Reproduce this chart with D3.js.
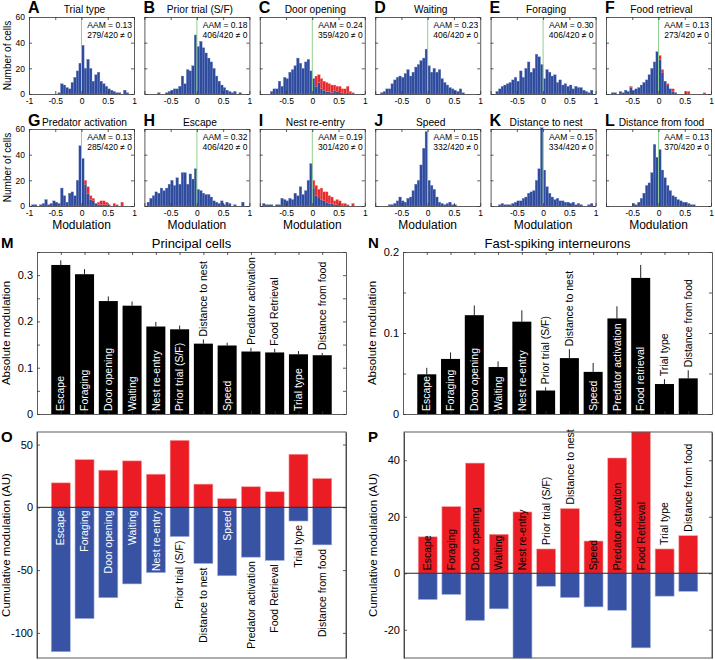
<!DOCTYPE html>
<html>
<head>
<meta charset="utf-8">
<script src="https://cdn.jsdelivr.net/npm/d3@7"></script>
<style>
body { margin: 0; background: #fff; }
svg { font-family: "Liberation Sans", Arial, sans-serif; }
</style>
</head>
<body>
<svg id="fig" width="715" height="660"></svg>
<script>
// ---------- histogram panels A-L (counts per 0.05 bin, from -1 to 1) ----------
const histLetters = ["A", "B", "C", "D", "E", "F", "G", "H", "I", "J", "K", "L"];
const histTitles = ["Trial type", "Prior trial (S/F)", "Door opening", "Waiting", "Foraging", "Food retrieval",
                    "Predator activation", "Escape", "Nest re-entry", "Speed", "Distance to nest", "Distance from food"];
const histAAM = [0.13, 0.18, 0.24, 0.23, 0.30, 0.13, 0.13, 0.32, 0.19, 0.15, 0.15, 0.13];
const histNonzero = [279, 406, 359, 406, 406, 273, 285, 406, 301, 332, 334, 370];
const histTotal = 420;
const binStart = -1, binWidth = 0.05;

const countsA = [0,0,0,0,0,0,0,0,0,0,0,1,8,7,5,4,9,13,18,24,38,20,27,20,10,15,17,10,8,6,4,3,2,1,1,0,3,1,0,0];
const countsB = [0,0,0,0,0,1,0,0,1,2,3,4,4,6,14,8,19,18,22,46,37,41,36,32,28,25,20,14,10,7,5,3,2,1,2,0,1,0,0,0];
const countsC = [0,0,0,0,2,4,4,10,6,13,12,17,19,22,28,24,20,25,27,18,12,6,9,4,3,2,2,1,3,2,1,1,0,1,0,0,0,0,0,0];
const countsD = [0,0,1,2,4,4,8,11,13,14,13,16,19,14,17,21,23,26,28,35,22,17,20,17,19,12,9,7,5,4,3,2,4,1,0,0,0,0,0,0];
const countsE = [0,0,2,4,6,7,8,9,11,13,10,18,13,20,25,17,20,31,29,23,12,19,17,14,15,9,11,7,8,6,7,4,6,5,5,3,2,1,3,0];
const countsF = [0,0,1,1,0,2,1,3,2,5,3,4,5,7,9,11,15,20,25,33,27,17,10,7,4,2,1,0,0,0,0,0,0,0,0,0,0,0,0,0];
const countsG = [0,1,1,0,1,2,5,1,2,4,3,2,14,8,3,10,11,8,20,47,37,17,10,5,4,2,1,1,1,1,0,0,0,0,0,0,0,0,0,0];
const countsH = [0,3,6,8,11,10,14,12,14,17,20,16,22,17,26,26,17,25,21,29,13,12,10,9,9,7,4,3,2,4,1,3,2,0,1,0,0,3,0,0];
const countsI = [0,2,1,1,1,0,1,1,6,5,4,6,5,10,8,15,9,12,20,33,14,8,7,5,4,3,2,2,1,1,0,0,0,0,0,0,0,0,0,0];
const countsJ = [0,0,0,0,0,1,1,2,4,7,4,3,6,7,12,17,20,32,45,58,20,16,13,7,3,2,1,2,3,1,1,0,0,0,0,0,0,0,0,0];
const countsK = [0,0,0,1,2,1,1,1,2,3,4,4,6,7,10,11,12,20,29,61,28,15,10,7,5,6,4,4,3,3,2,3,1,2,1,0,0,1,2,0];
const countsL = [0,0,0,0,0,0,0,0,0,0,2,1,3,6,10,16,18,26,48,38,44,28,22,16,12,8,7,5,4,3,3,2,1,1,0,0,0,0,0,0];
// significant cells (red), stacked on top of the blue counts
const redC = [0,0,0,0,0,0,0,0,0,0,0,0,0,0,0,0,0,0,0,0,0,8,6,8,7,7,6,6,4,4,5,3,4,5,2,1,0,0,0,0];
const redF = [0,0,0,0,0,0,0,0,0,1,0,0,0,0,0,0,0,0,0,0,3,2,0,1,0,2,0,0,0,0,2,2,0,0,0,0,0,1,0,0];
const redG = [0,0,0,0,0,0,0,0,0,0,0,0,0,0,0,0,0,0,0,0,0,3,5,3,2,0,2,3,3,2,1,0,2,1,0,3,0,0,0,0];
const redI = [0,0,0,0,0,0,0,0,0,0,0,0,0,0,0,0,0,0,0,0,6,8,6,9,7,8,6,5,3,4,4,2,2,1,0,2,0,0,0,0];

const histBlue = [countsA, countsB, countsC, countsD, countsE, countsF, countsG, countsH, countsI, countsJ, countsK, countsL];
const histRed = [null, null, redC, null, null, redF, redG, null, redI, null, null, null];

// ---------- M / N : absolute modulation ----------
const mLabels = ["Escape", "Foraging", "Door opening", "Waiting", "Nest re-entry", "Prior trial (S/F)",
                 "Distance to nest", "Speed", "Predator activation", "Food Retrieval", "Trial type", "Distance from food"];
const mMean = [0.322, 0.302, 0.244, 0.234, 0.189, 0.183, 0.152, 0.148, 0.135, 0.133, 0.129, 0.127];
const mErr  = [0.010, 0.011, 0.010, 0.009, 0.010, 0.008, 0.009, 0.006, 0.008, 0.008, 0.007, 0.005];

const nLabels = ["Escape", "Foraging", "Door opening", "Waiting", "Nest re-entry", "Prior trial (S/F)",
                 "Distance to nest", "Speed", "Predator activation", "Food retrieval", "Trial type", "Distance from food"];
const nMean = [0.049, 0.068, 0.122, 0.058, 0.114, 0.029, 0.069, 0.052, 0.118, 0.168, 0.037, 0.044];
const nErr  = [0.008, 0.008, 0.012, 0.007, 0.014, 0.004, 0.011, 0.011, 0.015, 0.016, 0.006, 0.010];

// ---------- O / P : cumulative modulation ----------
const oLabels = mLabels;
const oPos = [19.5, 38, 29.6, 37, 26.4, 53.4, 18.5, 6.9, 16.4, 12.4, 42.3, 23];
const oNeg = [-115, -88.6, -72, -61, -52, -23.3, -44.7, -54.5, -39.7, -42.3, -10.9, -29.9];

const pLabels = mLabels;
const pPos = [12.9, 23.6, 39, 13.8, 21.7, 8.6, 22.9, 11.4, 40.8, 50, 8.6, 13.3];
const pNeg = [-9.3, -7.5, -16.7, -12.6, -30, -4.6, -8.6, -11.9, -13.1, -26.4, -8.1, -6.4];

const svg = d3.select("#fig");
const FONT = "Liberation Sans, Arial, sans-serif";
const BLUE = "#2e4b9d", RED = "#e8282b";

// box with inward ticks on all four sides
function boxAxes(g, x, y, w, h, xt, yt, xfmt, yfmt, fs) {
    const ax = [
        [d3.axisBottom(x).tickValues(xt).tickFormat(xfmt || ""), `translate(0,${h})`],
        [d3.axisTop(x).tickValues(xt).tickFormat(""), "translate(0,0)"],
        [d3.axisLeft(y).tickValues(yt).tickFormat(yfmt || ""), "translate(0,0)"],
        [d3.axisRight(y).tickValues(yt).tickFormat(""), `translate(${w},0)`]
    ];
    ax.forEach(function(a) {
        const s = g.append("g").attr("transform", a[1])
            .call(a[0].tickSize(-3).tickSizeOuter(0).tickPadding(4));
        s.attr("font-family", FONT).attr("font-size", fs);
        s.selectAll("path, line").attr("stroke", "#333").attr("stroke-width", 0.8);
        s.selectAll("text").attr("fill", "#000");
    });
}

// ---------- draw histograms ----------
histBlue.forEach(function(counts, i) {
    const row = Math.floor(i / 6), col = i % 6;
    const left = 29 + col * 115.4, top = row ? 129 : 17, w = 105, h = 77;
    const g = svg.append("g").attr("transform", "translate(" + left + "," + top + ")");
    const x = d3.scaleLinear().domain([-1, 1]).range([0, w]);
    const y = d3.scaleLinear().domain([0, 60]).range([h, 0]);
    const bins = counts.map(function(c, k) {
        return {x0: binStart + k * binWidth, blue: c, red: histRed[i] ? histRed[i][k] : 0};
    });
    const bw = x(binWidth) - x(0);

    g.selectAll(".hb").data(bins.filter(d => d.blue > 0)).join("rect")
        .attr("x", d => x(d.x0)).attr("width", bw)
        .attr("y", d => y(d.blue)).attr("height", d => y(0) - y(d.blue))
        .attr("fill", BLUE).attr("stroke", "#7186c2").attr("stroke-width", 0.3);
    g.selectAll(".hr").data(bins.filter(d => d.red > 0)).join("rect")
        .attr("x", d => x(d.x0)).attr("width", bw)
        .attr("y", d => y(d.blue + d.red)).attr("height", d => y(d.blue) - y(d.blue + d.red))
        .attr("fill", RED).attr("stroke", "#f08a8a").attr("stroke-width", 0.3);

    // zero line
    g.append("line").attr("x1", x(0)).attr("x2", x(0)).attr("y1", 0).attr("y2", h)
        .attr("stroke", "#8fd18f").attr("stroke-width", 1);

    boxAxes(g, x, y, w, h, [-1, -0.5, 0, 0.5, 1], [0, 20, 40, 60],
        d => (col > 0 && d === -1) ? "" : String(d),
        col === 0 ? (d => String(d)) : null, 8.5);

    g.append("text").attr("x", w - 2).attr("y", 11).attr("text-anchor", "end")
        .attr("font-size", 8.5).text("AAM = " + histAAM[i].toFixed(2));
    g.append("text").attr("x", w - 2).attr("y", 21).attr("text-anchor", "end")
        .attr("font-size", 8.5).text(histNonzero[i] + "/" + histTotal + " \u2260 0");

    // panel letter + title
    g.append("text").attr("x", -1).attr("y", row ? -3 : -4).attr("font-size", 16)
        .attr("font-weight", "bold").text(histLetters[i]);
    g.append("text").attr("x", w / 2 + 3).attr("y", row ? -3 : -4).attr("text-anchor", "middle")
        .attr("font-size", 10.2).text(histTitles[i]);

    if (col === 0) {
        g.append("text").attr("transform", "translate(-22," + (h / 2) + ") rotate(-90)")
            .attr("text-anchor", "middle").attr("dy", "0.35em")
            .attr("font-size", 10).text("Number of cells");
    }
    if (row === 1) {
        g.append("text").attr("x", w / 2).attr("y", h + 23).attr("text-anchor", "middle")
            .attr("font-size", 12).text("Modulation");
    }
});

// ---------- absolute modulation panels ----------
function drawAbs(o) {
    const w = o.right - o.left, h = o.bottom - o.top;
    const g = svg.append("g").attr("transform", "translate(" + o.left + "," + o.top + ")");
    const x = d3.scaleLinear().domain([0, o.labels.length + 1]).range([0, w]);
    const y = d3.scaleLinear().domain([0, o.yMax]).range([h, 0]);
    const bw = x(0.8) - x(0);
    const rows = o.labels.map((l, i) => ({label: l, mean: o.mean[i], err: o.err[i], pos: i + 1}));

    g.selectAll(".err").data(rows).join("line")
        .attr("x1", d => x(d.pos)).attr("x2", d => x(d.pos))
        .attr("y1", d => y(d.mean)).attr("y2", d => y(d.mean + d.err))
        .attr("stroke", "#222").attr("stroke-width", 1);
    g.selectAll(".bar").data(rows).join("rect")
        .attr("x", d => x(d.pos) - bw / 2).attr("width", bw)
        .attr("y", d => y(d.mean)).attr("height", d => y(0) - y(d.mean))
        .attr("fill", "#000");

    rows.forEach(function(d) {
        const t = g.append("text").attr("font-size", 10.5).attr("dy", "0.35em").text(d.label);
        const len = t.node().getComputedTextLength();
        const inside = len < y(0) - y(d.mean) + 2;
        const ty = inside ? y(0) - 3 : y(d.mean + d.err) - 3;
        t.attr("transform", "translate(" + x(d.pos) + "," + ty + ") rotate(-90)")
            .attr("fill", inside ? "#fff" : "#000");
    });

    boxAxes(g, x, y, w, h, d3.range(1, o.labels.length + 1), o.yTicks, null,
        d => o.yLabels.indexOf(d) >= 0 ? (d === 0 ? "0" : d.toFixed(1)) : "", 11);

    g.append("text").attr("x", w / 2).attr("y", -4).attr("text-anchor", "middle")
        .attr("font-size", 13).text(o.title);
    g.append("text").attr("x", o.letterX).attr("y", -4).attr("font-size", 15)
        .attr("font-weight", "bold").text(o.letter);
    g.append("text").attr("transform", "translate(" + o.ylabX + "," + (h / 2) + ") rotate(-90)")
        .attr("text-anchor", "middle").attr("font-size", 11.5).text("Absolute modulation");
}

drawAbs({left: 37, right: 346, top: 252, bottom: 414, yMax: 0.35, labels: mLabels, mean: mMean, err: mErr,
         yTicks: [0, 0.05, 0.1, 0.15, 0.2, 0.25, 0.3, 0.35], yLabels: [0, 0.1, 0.2, 0.3],
         title: "Principal cells", letter: "M", letterX: -36, ylabX: -27});
drawAbs({left: 403, right: 712, top: 252, bottom: 414, yMax: 0.2, labels: nLabels, mean: nMean, err: nErr,
         yTicks: [0, 0.05, 0.1, 0.15, 0.2], yLabels: [0, 0.1, 0.2],
         title: "Fast-spiking interneurons", letter: "N", letterX: -35, ylabX: -27});

// ---------- cumulative modulation panels ----------
function drawCum(o) {
    const w = o.right - o.left, h = o.bottom - o.top;
    const g = svg.append("g").attr("transform", "translate(" + o.left + "," + o.top + ")");
    const x = d3.scaleLinear().domain([0, o.labels.length + 1]).range([0, w]);
    const y = d3.scaleLinear().domain(o.yDomain).range([h, 0]);
    const bw = x(0.8) - x(0);
    const rows = o.labels.map((l, i) => ({label: l, pos: i + 1, up: o.pos[i], down: o.neg[i]}));

    g.selectAll(".up").data(rows).join("rect")
        .attr("x", d => x(d.pos) - bw / 2).attr("width", bw)
        .attr("y", d => y(d.up)).attr("height", d => y(0) - y(d.up))
        .attr("fill", "#ec1c24").attr("stroke", "#f6a3a3").attr("stroke-width", 0.6);
    g.selectAll(".down").data(rows).join("rect")
        .attr("x", d => x(d.pos) - bw / 2).attr("width", bw)
        .attr("y", y(0)).attr("height", d => y(d.down) - y(0))
        .attr("fill", "#3953a4").attr("stroke", "#9fb0dc").attr("stroke-width", 0.6);

    g.append("line").attr("x1", 0).attr("x2", w).attr("y1", y(0)).attr("y2", y(0))
        .attr("stroke", "#222").attr("stroke-width", 1);

    rows.forEach(function(d) {
        const t = g.append("text").attr("font-size", 10.5).attr("dy", "0.35em").text(d.label);
        const len = t.node().getComputedTextLength();
        let inside, ty, anchor;
        if (o.labelSide === "down") {
            inside = len < y(d.down) - y(0) + 2;
            ty = inside ? y(0) + 3 : y(d.down) + 4;
            anchor = "end";
        } else {
            inside = len < y(0) - y(d.up) + 2;
            ty = inside ? y(0) - 3 : y(d.up) - 4;
            anchor = "start";
        }
        t.attr("transform", "translate(" + x(d.pos) + "," + ty + ") rotate(-90)")
            .attr("text-anchor", anchor)
            .attr("fill", inside ? o.insideColor : "#000");
    });

    const frame = g.append("g");
    [d3.axisLeft(y), d3.axisRight(y)].forEach(function(a, k) {
        const s = frame.append("g").attr("transform", "translate(" + (k ? w : 0) + ",0)")
            .call(a.tickValues(o.yTicks).tickSize(-3).tickSizeOuter(0).tickPadding(4)
                .tickFormat(k ? "" : (d => String(d))));
        s.attr("font-family", FONT).attr("font-size", 11);
        s.selectAll("path, line").attr("stroke", "#333").attr("stroke-width", 0.8);
        s.selectAll("text").attr("fill", "#000");
    });
    frame.append("rect").attr("width", w).attr("height", h).attr("fill", "none")
        .attr("stroke", "#333").attr("stroke-width", 0.8);

    g.append("text").attr("x", o.letterX).attr("y", 10).attr("font-size", 15)
        .attr("font-weight", "bold").text(o.letter);
    g.append("text").attr("transform", "translate(" + o.ylabX + "," + (h / 2) + ") rotate(-90)")
        .attr("text-anchor", "middle").attr("font-size", 11.5).text("Cumulative modulation (AU)");
}

drawCum({left: 37, right: 346, top: 432, bottom: 658, yDomain: [-120, 60], labels: oLabels, pos: oPos, neg: oNeg,
         yTicks: [-100, -50, 0, 50], labelSide: "down", insideColor: "#fff",
         letter: "O", letterX: -36, ylabX: -27});
drawCum({left: 404, right: 712, top: 432, bottom: 658, yDomain: [-30, 50], labels: pLabels, pos: pPos, neg: pNeg,
         yTicks: [-20, 0, 20, 40], labelSide: "up", insideColor: "#000",
         letter: "P", letterX: -36, ylabX: -27});
</script>
</body>
</html>
